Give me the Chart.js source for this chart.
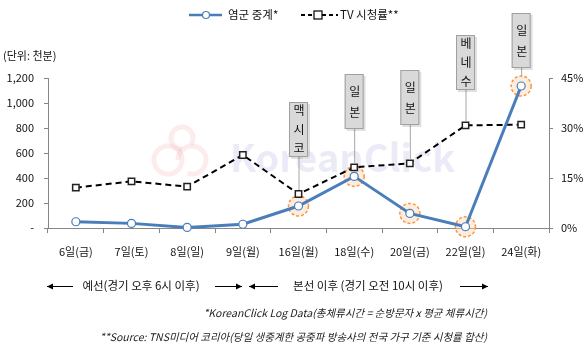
<!DOCTYPE html>
<html>
<head>
<meta charset="utf-8">
<title>염군 중계 vs TV 시청률</title>
<script src="https://cdn.jsdelivr.net/npm/chart.js"></script>
<style>
  html, body { margin: 0; padding: 0; background: #fff; }
  #wrap { width: 585px; height: 358px; position: relative; }
</style>
</head>
<body>
<div id="wrap"><canvas id="myChart" width="585" height="358"></canvas></div>
<script>
// 데이터
const categories = ['6일(금)', '7일(토)', '8일(일)', '9일(월)', '16일(월)', '18일(수)', '20일(금)', '22일(일)', '24일(화)'];
const streamValues = [50, 37, 5, 30, 176, 413, 117, 10, 1136];       // 천분
const tvRatings = [12.1, 14.0, 12.4, 21.9, 10.2, 18.2, 19.4, 30.8, 31.0]; // %
const leftTicks = [0, 200, 400, 600, 800, 1000, 1200];
const rightTicks = [0, 15, 30, 45];
const matchIdx = [4, 5, 6, 7, 8];
const matchLabels = ['맥시코', '일본', '일본', '베네수', '일본'];

const FONT = '"Noto Sans CJK KR", "Noto Sans", sans-serif';
const BLUE = '#4a7ebb';
const AXIS = '#868686';

// 배경 워터마크 + 주황 원
const backPlugin = {
    id: 'backPlugin',
    beforeDatasetsDraw(chart) {
        const ctx = chart.ctx;
        ctx.save();
        // 워터마크
        ctx.strokeStyle = 'rgba(240,150,150,0.18)';
        ctx.lineWidth = 5;
        ctx.beginPath(); ctx.arc(168, 160, 14, 0, Math.PI * 2); ctx.stroke();
        ctx.beginPath(); ctx.arc(192, 160, 14, Math.PI, Math.PI * 2.6); ctx.stroke();
        ctx.beginPath(); ctx.arc(182, 138, 11, Math.PI * 0.5, Math.PI * 2.2); ctx.stroke();
        ctx.fillStyle = 'rgba(205,205,235,0.4)';
        ctx.font = 'bold 38px ' + FONT;
        ctx.textBaseline = 'middle';
        ctx.fillText('KoreanClick', 230, 158);

        // 주황 점선 원
        const meta = chart.getDatasetMeta(0);
        matchIdx.forEach(i => {
            const p = meta.data[i];
            ctx.beginPath();
            ctx.arc(p.x, p.y, 10, 0, Math.PI * 2);
            ctx.fillStyle = 'rgba(252,213,180,0.45)';
            ctx.fill();
            ctx.setLineDash([3, 2]);
            ctx.lineWidth = 1.5;
            ctx.strokeStyle = '#f79646';
            ctx.stroke();
            ctx.setLineDash([]);
        });
        ctx.restore();
    }
};

// 말풍선, 범례, 하단 텍스트
const boxTops = [102, 74, 70, 35, 13];
const frontPlugin = {
    id: 'frontPlugin',
    afterDraw(chart) {
        const ctx = chart.ctx;
        const x = chart.scales.x;
        const blueMeta = chart.getDatasetMeta(0);
        const tvMeta = chart.getDatasetMeta(1);
        ctx.save();

        // 말풍선
        matchIdx.forEach((idx, k) => {
            const cx = x.getPixelForValue(idx);
            const top = boxTops[k];
            const h = 55, w = 19;
            const bottom = top + h;
            let endY = tvMeta.data[idx].y - 4;
            if (idx === 8) endY = blueMeta.data[idx].y - 10;
            ctx.strokeStyle = '#a6a6a6';
            ctx.lineWidth = 1;
            ctx.beginPath();
            ctx.moveTo(cx + 0.5, bottom);
            ctx.lineTo(cx + 0.5, endY);
            ctx.stroke();
            ctx.fillStyle = 'rgba(0,0,0,0.12)';
            ctx.fillRect(cx - w / 2 + 2, top + 2, w, h);
            ctx.fillStyle = '#d9d9d9';
            ctx.fillRect(cx - w / 2, top, w, h);
            ctx.strokeStyle = '#a0a0a0';
            ctx.strokeRect(cx - w / 2 + 0.5, top + 0.5, w - 1, h - 1);
            const chars = matchLabels[k].split('');
            const step = chars.length === 2 ? 21 : 19;
            const start = top + h / 2 - step * (chars.length - 1) / 2;
            ctx.fillStyle = '#111';
            ctx.font = '12px ' + FONT;
            ctx.textAlign = 'center';
            ctx.textBaseline = 'middle';
            chars.forEach((c, j) => ctx.fillText(c, cx + 0.5, start + j * step));
        });

        // 범례
        ctx.textAlign = 'left';
        ctx.textBaseline = 'middle';
        ctx.font = '11.5px ' + FONT;
        ctx.strokeStyle = BLUE;
        ctx.lineWidth = 2.5;
        ctx.beginPath(); ctx.moveTo(189, 15); ctx.lineTo(222, 15); ctx.stroke();
        ctx.beginPath(); ctx.arc(206, 15, 3.5, 0, Math.PI * 2);
        ctx.fillStyle = '#fff'; ctx.fill();
        ctx.lineWidth = 1.2; ctx.stroke();
        ctx.fillStyle = '#111';
        ctx.fillText('염군 중계*', 228, 15);

        ctx.strokeStyle = '#000';
        ctx.lineWidth = 2;
        ctx.setLineDash([4, 3]);
        ctx.beginPath(); ctx.moveTo(301, 15); ctx.lineTo(338, 15); ctx.stroke();
        ctx.setLineDash([]);
        ctx.fillStyle = '#fff';
        ctx.fillRect(314, 11, 8, 8);
        ctx.lineWidth = 1.2;
        ctx.strokeRect(314, 11, 8, 8);
        ctx.fillStyle = '#111';
        ctx.fillText('TV 시청률**', 340, 15);

        // 단위
        ctx.font = '11px ' + FONT;
        ctx.fillText('(단위: 천분)', 3, 56);

        // 화살표 줄
        function arrow(x1, x2, y, dir) {
            ctx.strokeStyle = '#000';
            ctx.fillStyle = '#000';
            ctx.lineWidth = 1;
            ctx.beginPath(); ctx.moveTo(x1, y + 0.5); ctx.lineTo(x2, y + 0.5); ctx.stroke();
            const tip = dir > 0 ? x2 : x1;
            ctx.beginPath();
            ctx.moveTo(tip, y + 0.5);
            ctx.lineTo(tip - dir * 6, y - 2.5);
            ctx.lineTo(tip - dir * 6, y + 3.5);
            ctx.closePath();
            ctx.fill();
        }
        const ay = 286;
        arrow(47, 73, ay, -1);
        arrow(215, 242, ay, 1);
        arrow(249, 278, ay, -1);
        arrow(460, 488, ay, 1);
        ctx.fillStyle = '#111';
        ctx.font = '11.5px ' + FONT;
        ctx.textAlign = 'center';
        ctx.fillText('예선(경기 오후 6시 이후)', 141, ay);
        ctx.fillText('본선 이후 (경기 오전 10시 이후)', 368, ay);

        // 각주
        ctx.textAlign = 'right';
        ctx.font = 'italic 10.5px ' + FONT;
        ctx.fillStyle = '#222';
        ctx.fillText('*KoreanClick Log Data(총체류시간 = 순방문자 x 평균 체류시간)', 487, 313);
        ctx.fillText('**Source: TNS미디어 코리아(당일 생중계한 공중파 방송사의 전국 가구 기준 시청률 합산)', 487, 337);
        ctx.restore();
    }
};

const ctx = document.getElementById('myChart').getContext('2d');
const myChart = new Chart(ctx, {
    type: 'line',
    data: {
        labels: categories,
        datasets: [{
            label: '염군 중계*',
            data: streamValues,
            yAxisID: 'y',
            borderColor: BLUE,
            borderWidth: 3,
            pointRadius: 4,
            pointBorderWidth: 1.2,
            pointBackgroundColor: '#fff',
            pointBorderColor: BLUE,
            tension: 0,
            clip: false
        }, {
            label: 'TV 시청률**',
            data: tvRatings,
            yAxisID: 'y1',
            borderColor: '#000',
            borderWidth: 2,
            borderDash: [6, 4],
            pointStyle: 'rect',
            pointRadius: 4.5,
            pointBorderWidth: 1.5,
            pointBackgroundColor: '#fff',
            pointBorderColor: '#222',
            tension: 0,
            clip: false
        }]
    },
    options: {
        responsive: false,
        animation: false,
        layout: { padding: { top: 78, left: 0, right: 0, bottom: 0 } },
        plugins: {
            legend: { display: false },
            tooltip: { enabled: false }
        },
        scales: {
            x: {
                offset: true,
                grid: { display: true, drawOnChartArea: false, offset: true, tickLength: 5, color: AXIS },
                border: { color: AXIS },
                ticks: { color: '#111', font: { family: FONT, size: 11 }, padding: 12, maxRotation: 0, autoSkip: false },
                afterFit(s) { s.height = 130; }
            },
            y: {
                position: 'left',
                min: 0,
                max: 1200,
                afterBuildTicks(s) { s.ticks = leftTicks.map(v => ({ value: v })); },
                grid: { drawOnChartArea: false, tickLength: 4, color: AXIS },
                border: { color: AXIS },
                ticks: {
                    color: '#111',
                    font: { family: FONT, size: 11 },
                    padding: 10,
                    callback: v => v === 0 ? '-' : v.toLocaleString('en-US')
                },
                afterFit(s) { s.width = 48; }
            },
            y1: {
                position: 'right',
                min: 0,
                max: 45,
                afterBuildTicks(s) { s.ticks = rightTicks.map(v => ({ value: v })); },
                grid: { drawOnChartArea: false, tickLength: 4, color: AXIS },
                border: { color: AXIS },
                ticks: {
                    color: '#111',
                    font: { family: FONT, size: 11 },
                    padding: 8,
                    callback: v => v + '%'
                },
                afterFit(s) { s.width = 36; }
            }
        }
    },
    plugins: [backPlugin, frontPlugin]
});
</script>
</body>
</html>
